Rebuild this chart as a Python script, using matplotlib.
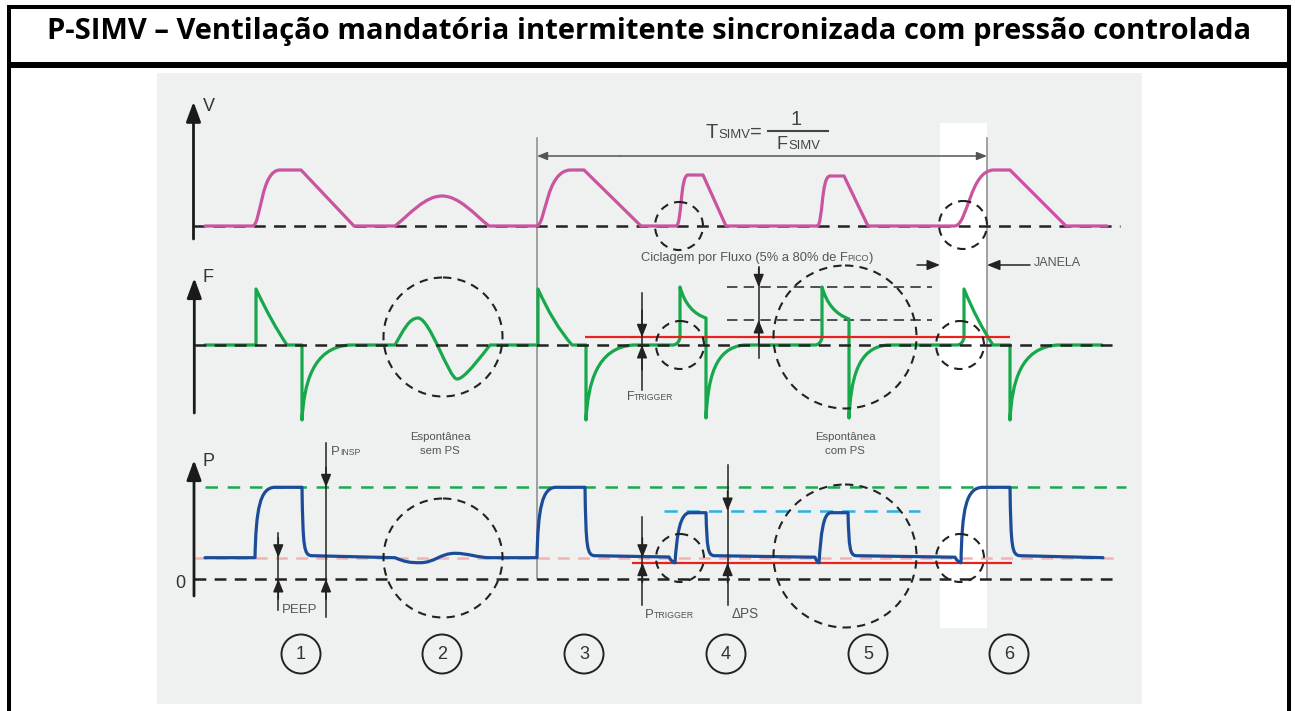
import matplotlib
matplotlib.use("Agg")
import matplotlib.pyplot as plt
from matplotlib.path import Path
from matplotlib.patches import PathPatch, Circle, Rectangle

plt.rcParams["lines.scale_dashes"] = False

TITLE = "P-SIMV – Ventilação mandatória intermitente sincronizada com pressão controlada"
SANS = "Liberation Sans"

# trace baselines (pixel rows of the drawing)
V_BASE, F_BASE, P_ZERO = 226, 345, 579

# levels (height above the baseline)
PEEP = 21.3
PINSP = 91.7
PS = 68
P_TRIGGER = 16.3
F_TRIGGER = 7.7
F_CYCLE = [57.7, 25]

# waveforms: (code, x, amp, ...) M=move, L=line, Q=quadratic, C=cubic
V_WAVE = [
    ("M", 205, 0), ("L", 253, 0),
    ("C", 261, 3, 261, 56, 280, 56), ("L", 301, 56), ("L", 354, 0),
    ("L", 395, 0),
    ("C", 410, 12, 425, 30, 442, 30), ("C", 459, 30, 474, 12, 489, 0),
    ("L", 537, 0),
    ("C", 546, 3, 546, 56, 571, 56), ("L", 584, 56), ("L", 641, 0),
    ("L", 676, 0),
    ("C", 682, 0, 680, 51, 688, 51), ("L", 703, 51), ("L", 726, 0),
    ("L", 817, 0),
    ("C", 823, 0, 821, 50, 830, 50), ("L", 844, 50), ("L", 868, 0),
    ("L", 955, 0),
    ("C", 968, 2, 970, 56, 994, 56), ("L", 1010, 56), ("L", 1066, 0),
    ("L", 1107, 0),
]

F_WAVE = [
    ("M", 205, 0), ("L", 256, 0), ("L", 256, 56), ("Q", 272, 22, 287, 0),
    ("L", 302, 0), ("L", 302, -75), ("C", 304, -40, 312, -2, 350, 0),
    ("L", 395, 0),
    ("C", 403, 14, 409, 27, 418, 27), ("C", 430, 27, 449, -34, 457, -34),
    ("C", 462, -34, 470, -26, 490, 0),
    ("L", 538, 0), ("L", 538, 56), ("Q", 553, 22, 572, 0),
    ("L", 586, 0), ("L", 586, -75), ("C", 588, -40, 596, -2, 634, 0),
    ("L", 673, 0), ("Q", 678, 0, 680, 7), ("L", 680, 58), ("Q", 687, 33, 706, 27),
    ("L", 706, -73), ("C", 708, -35, 714, -2, 745, 0),
    ("L", 815, 0), ("Q", 820, 0, 822, 7), ("L", 822, 58), ("Q", 829, 33, 849, 26),
    ("L", 849, -73), ("C", 851, -35, 857, -2, 888, 0),
    ("L", 957, 0), ("Q", 962, 0, 964, 7), ("L", 964, 56), ("Q", 977, 24, 993, 0),
    ("L", 1010, 0), ("L", 1010, -75), ("C", 1012, -38, 1020, -2, 1058, 0),
    ("L", 1102, 0),
]

P_WAVE = [
    ("M", 205, 21.3), ("L", 255, 21.3),
    ("C", 256, 70, 260, 91.7, 275, 91.7), ("L", 302, 91.7),
    ("C", 303, 30, 304, 23.5, 312, 23.3), ("L", 395, 21.3),
    ("C", 405, 17, 410, 16.3, 420, 16.3), ("C", 435, 16.3, 440, 25.7, 455, 25.7),
    ("C", 468, 25.7, 478, 21.3, 490, 21.3),
    ("L", 537, 21.3),
    ("C", 538, 70, 542, 91.7, 556, 91.7), ("L", 585, 91.7),
    ("C", 586, 30, 587, 23.5, 595, 23.3), ("L", 669, 22),
    ("Q", 672, 16.3, 675, 16.3), ("C", 677, 45, 680, 66.3, 690, 66.3), ("L", 706, 66.3),
    ("C", 707, 30, 708, 24, 714, 23.3), ("L", 815, 21.8),
    ("Q", 817, 16.3, 819, 16.3), ("C", 821, 45, 823, 66.3, 831, 66.3), ("L", 848, 66.3),
    ("C", 849, 30, 850, 24, 856, 23.3), ("L", 955, 21.8),
    ("Q", 958, 16.3, 961, 16.3), ("C", 962, 70, 966, 91.7, 983, 91.7), ("L", 1010, 91.7),
    ("C", 1011, 30, 1012, 24, 1020, 23.3), ("L", 1103, 21.3),
]

CYCLE_X = [301, 442, 584, 726, 868, 1009]
CYCLE_LABELS = ["1", "2", "3", "4", "5", "6"]

# dashed circles (x, y, r)
CIRCLES = [(679, 226, 24), (963, 225, 24),
           (443, 337, 59.5), (680, 345, 24), (960, 345, 24), (845, 337, 71.5),
           (443, 558, 59.5), (680, 558, 24), (960, 558, 24), (845, 556, 71.5)]

MAGENTA, GREEN, BLUE = "#c9549f", "#17a84b", "#1c4c98"
RED, PINK, CYAN, GREEN_D = "#e8221f", "#f4b3b3", "#2bb1e6", "#1aaa4f"
DARK, TXT = "#222222", "#555555"

fig = plt.figure(figsize=(12.95, 7.11), dpi=100)
ax = fig.add_axes([0, 0, 1, 1])
ax.set_xlim(0, 1295)
ax.set_ylim(711, 0)
ax.axis("off")
R = fig.canvas.get_renderer()


def make_path(segs, base):
    verts, codes = [], []
    kinds = {"M": Path.MOVETO, "L": Path.LINETO, "Q": Path.CURVE3, "C": Path.CURVE4}
    for s in segs:
        vals = s[1:]
        for i in range(0, len(vals), 2):
            verts.append((vals[i], base - vals[i + 1]))
            codes.append(kinds[s[0]])
    return Path(verts, codes)


def hline(x0, x1, y, color, lw, dash=None, z=2):
    ls = "-" if dash is None else (0, dash)
    ax.plot([x0, x1], [y, y], color=color, lw=lw, ls=ls, zorder=z, solid_capstyle="butt")


def arrow(x0, y0, x1, y1, ms=14, color=DARK, lw=1.1, style="-|>,head_length=0.55,head_width=0.22"):
    ax.annotate("", xy=(x1, y1), xytext=(x0, y0),
                arrowprops=dict(arrowstyle=style, color=color, lw=lw, mutation_scale=ms,
                                shrinkA=0, shrinkB=0), zorder=6)


def rich(x, y, parts, color=TXT):
    for s, size in parts:
        t = ax.text(x, y, s, fontsize=size, color=color, family=SANS, ha="left",
                    va="baseline", zorder=7)
        x = t.get_window_extent(R).x1
    return x


# frame and title
for xx in (9, 1289):
    ax.plot([xx, xx], [4.5, 711], color="black", lw=2.9, solid_capstyle="butt")
hline(7, 1291, 6.5, "black", 2.9)
hline(7, 1291, 64.5, "black", 4.3)
title = ax.text(649, 39.5, TITLE, fontsize=20, weight="bold", family="Open Sans",
                ha="center", va="baseline")
title.set_fontsize(20 * 1204 / title.get_window_extent(R).width)

# panel
ax.add_patch(Rectangle((157, 73), 985, 631, fc="#eff0f0", ec="none", zorder=0))
ax.add_patch(Rectangle((940, 123), 47, 505, fc="white", ec="none", zorder=0.5))
for xx in (537, 987):
    ax.plot([xx, xx], [138, 578], color="#8a8a8a", lw=1.1, zorder=1)

# level lines
dash = (8.5, 6)
hline(193, 1120, V_BASE, DARK, 1.8, dash, z=2)
hline(194, 1120, F_BASE, DARK, 1.8, dash, z=4)
hline(194, 1120, P_ZERO, DARK, 1.8, dash, z=2)
hline(195, 1121, P_ZERO - PEEP, PINK, 1.8, dash, z=2)
hline(205, 1126, P_ZERO - PINSP, GREEN_D, 1.8, (9, 7), z=2)
hline(664, 920, P_ZERO - PS, CYAN, 1.8, (9.5, 6.5), z=2)
for lv in F_CYCLE:
    hline(727, 932, F_BASE - lv, DARK, 1.1, (7.5, 4.5), z=2)
hline(585, 1010, F_BASE - F_TRIGGER, RED, 1.6, z=4.5)
hline(632, 1012, P_ZERO - P_TRIGGER, RED, 1.6, z=2.5)

# waveforms
for segs, base, col in [(V_WAVE, V_BASE, MAGENTA), (F_WAVE, F_BASE, GREEN), (P_WAVE, P_ZERO, BLUE)]:
    ax.add_patch(PathPatch(make_path(segs, base), fill=False, ec=col, lw=2.3,
                           capstyle="round", joinstyle="round", zorder=3))

for cx, cy, r in CIRCLES:
    ax.add_patch(Circle((cx, cy), r, fill=False, ec=DARK, lw=1.5, ls=(0, (6, 4.5)), zorder=5))

# axes arrows and names
big = "-|>,head_length=0.6,head_width=0.22"
for x, y0, y1, name, ly in [(193.5, 239, 101.7, "V", 111), (194.3, 413, 278, "F", 282.5),
                            (194, 596, 460, "P", 466)]:
    arrow(x, y0, x, y1, ms=20, color="#1a1a1a", lw=2, style=big)
    ax.text(203, ly, name, fontsize=13, color="#333333", family=SANS, va="baseline")
ax.text(180.5, 583.5, "0", fontsize=13, color="#333333", family=SANS, ha="center", va="center")

# T_SIMV
arrow(620, 156, 537, 156, ms=11, color="#555555", lw=1.1)
arrow(620, 156, 987, 156, ms=11, color="#555555", lw=1.1)
rich(706, 137.7, [("T", 14.4), ("SIMV", 9.4), ("=", 14.4)], color="#444444")
ax.text(796, 125, "1", fontsize=14.4, color="#444444", family=SANS, ha="center", va="baseline")
hline(767, 829, 131.3, "#444444", 1.5)
rich(777, 149.3, [("F", 13), ("SIMV", 9.4)], color="#444444")

# flow annotations
rich(640.6, 261, [("Ciclagem por Fluxo (5% a 80% de F", 9.3), ("PICO", 6.3), (")", 9.3)])
arrow(917, 265, 940, 265)
arrow(1030, 265, 987, 265)
rich(1034, 266, [("JANELA", 9)])
ax.plot([642, 642], [293, 390], color=DARK, lw=1.1, zorder=6)
arrow(642, 310, 642, F_BASE - F_TRIGGER)
arrow(642, 370, 642, F_BASE)
rich(626.6, 400, [("F", 9), ("TRIGGER", 6.2)])
ax.plot([758.7, 758.7], [266.7, 358], color=DARK, lw=1.1, zorder=6)
arrow(758.7, 268, 758.7, F_BASE - F_CYCLE[0])
arrow(758.7, 345, 758.7, F_BASE - F_CYCLE[1])

# pressure annotations
for x, y0, y1, tip_dn, tip_up in [(326, 443, 617, P_ZERO - PINSP, P_ZERO),
                                  (278.3, 533, 610, P_ZERO - PEEP, P_ZERO),
                                  (642.4, 517, 605, P_ZERO - PEEP, P_ZERO - P_TRIGGER),
                                  (727.6, 465, 605, P_ZERO - PS, P_ZERO - P_TRIGGER)]:
    ax.plot([x, x], [y0, y1], color=DARK, lw=1.1, zorder=6)
    arrow(x, tip_dn - 20, x, tip_dn)
    arrow(x, tip_up + 20, x, tip_up)
rich(331, 455, [("P", 9.5), ("INSP", 6.3)])
rich(281.7, 613.3, [("PEEP", 9.5)])
rich(645, 618, [("P", 9.5), ("TRIGGER", 6.3)])
rich(732, 618, [("ΔPS", 9.8)])
for cx, lines in [(440, ["Espontânea", "sem PS"]), (845, ["Espontânea", "com PS"])]:
    for k, s in enumerate(lines):
        ax.text(cx, 440 + 14 * k, s, fontsize=8.2, color=TXT, family=SANS,
                ha="center", va="baseline")

# cycle numbers
for cx, lab in zip(CYCLE_X, CYCLE_LABELS):
    ax.add_patch(Circle((cx, 654), 19.5, fill=False, ec="#222222", lw=1.4, zorder=5))
    ax.text(cx, 654.5, lab, fontsize=13, color="#333333", family=SANS,
            ha="center", va="center")

fig.savefig("out.png", dpi=100)
